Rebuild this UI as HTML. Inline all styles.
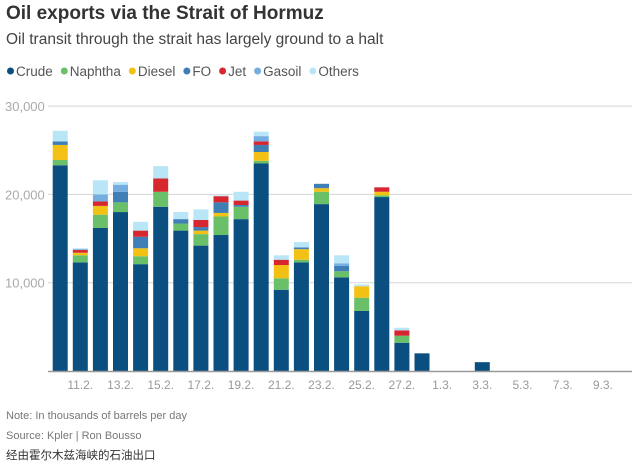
<!DOCTYPE html>
<html><head><meta charset="utf-8"><style>
body{margin:0;width:640px;height:465px;background:#fff;font-family:"Liberation Sans","Noto Sans CJK SC",sans-serif;overflow:hidden;position:relative}
.t{position:absolute;white-space:nowrap}
</style></head><body>
<div class="t" style="left:6px;top:3px;font-size:19px;font-weight:bold;color:#333">Oil exports via the Strait of Hormuz</div>
<div class="t" style="left:6px;top:31px;font-size:15.5px;color:#444">Oil transit through the strait has largely ground to a halt</div>
<div class="t" style="left:6px;top:410px;font-size:11px;color:#777">Note: In thousands of barrels per day</div>
<div class="t" style="left:6px;top:430px;font-size:11px;color:#777">Source: Kpler | Ron Bousso</div>
<div class="t" style="left:6px;top:447px;font-size:11.5px;color:#333">经由霍尔木兹海峡的石油出口</div>
<svg id="c" width="640" height="465" style="position:absolute;left:0;top:0"></svg>
<script>
const categories=["10.2.","11.2.","12.2.","13.2.","14.2.","15.2.","16.2.","17.2.","18.2.","19.2.","20.2.","21.2.","22.2.","23.2.","24.2.","25.2.","26.2.","27.2.","28.2.","1.3.","2.3.","3.3.","4.3.","5.3.","6.3.","7.3.","8.3.","9.3."];
const seriesNames=["Crude","Naphtha","Diesel","FO","Jet","Gasoil","Others"];
const seriesColors=["#0b4f80","#6abf69","#f2c114","#3f7fb5","#d7262e","#74aee0","#b8e6f7"];
const crude=[23300,12300,16200,18000,12100,18600,15900,14200,15400,17200,23500,9200,12300,18900,10600,6800,19700,3200,2000,0,0,1000,0,0,0,0,0,0];
const naphtha=[600,800,1500,1100,900,1700,800,1300,2100,1400,300,1300,300,1400,700,1500,200,800,0,0,0,0,0,0,0,0,0,0];
const diesel=[1700,300,1000,0,900,0,0,400,400,0,1000,1500,1200,400,0,1300,400,0,0,0,0,0,0,0,0,0,0,0];
const fo=[400,0,0,1200,1300,0,500,400,1200,200,800,0,200,500,600,0,0,0,0,0,0,0,0,0,0,0,0,0];
const jet=[0,300,500,0,700,1500,0,800,700,500,400,600,0,0,0,0,500,600,0,0,0,0,0,0,0,0,0,0];
const gasoil=[0,100,800,800,0,0,0,0,0,0,600,0,0,0,300,0,0,0,0,0,0,0,0,0,0,0,0,0];
const others=[1200,100,1600,300,1000,1400,800,1200,100,1000,500,500,600,0,900,200,0,300,0,0,0,0,0,0,0,0,0,0];
const yTicks=[10000,20000,30000];
const xLabelIdx=[1,3,5,7,9,11,13,15,17,19,21,23,25,27];
const series=[crude,naphtha,diesel,fo,jet,gasoil,others];
const NS="http://www.w3.org/2000/svg";
const svg=document.getElementById('c');
const y0=371, pxPer=88.3/10000;
const yScale=v=>y0-v*pxPer;
const xScale=i=>60.2+20.1*i;
const bw=15;
function mk(tag,attrs,parent){const e=document.createElementNS(NS,tag);for(const k in attrs)e.setAttribute(k,attrs[k]);(parent||svg).appendChild(e);return e;}
yTicks.forEach(v=>{
  const l=mk('line',{x1:48,x2:632,y1:yScale(v),y2:yScale(v),stroke:'#d5d5d5','stroke-width':1});
  
  
  const t=mk('text',{x:5,y:yScale(v)+5,'font-size':13,fill:'#aaa','font-family':'Liberation Sans, sans-serif'});
  t.textContent=v.toLocaleString('en-US');
  
  
});
categories.forEach((c,i)=>{
  let acc=0;
  series.forEach((s,k)=>{
    const v=s[i]; if(!v)return;
    const r=mk('rect',{x:xScale(i)-bw/2,y:yScale(acc+v),width:bw,height:v*pxPer,fill:seriesColors[k]});
    
    
    acc+=v;
  });
});
const ax=mk('line',{x1:48,x2:632,y1:y0+0.5,y2:y0+0.5,stroke:'#999','stroke-width':1.5});


xLabelIdx.forEach(i=>{
  const t=mk('text',{x:xScale(i),y:389,'text-anchor':'middle','font-size':12,fill:'#999','font-family':'Liberation Sans, sans-serif'});
  t.textContent=categories[i];
  
  
});
let lx=7;
seriesNames.forEach((n,k)=>{
  const g=mk('g',{});
  
  
  mk('circle',{cx:lx+3.5,cy:71,r:3.5,fill:seriesColors[k]},g);
  const t=mk('text',{x:lx+9,y:76,'font-size':13.5,fill:'#555','font-family':'Liberation Sans, sans-serif'},g);
  t.textContent=n;
  lx+=9+t.getComputedTextLength()+8;
});
</script>
</body></html>
